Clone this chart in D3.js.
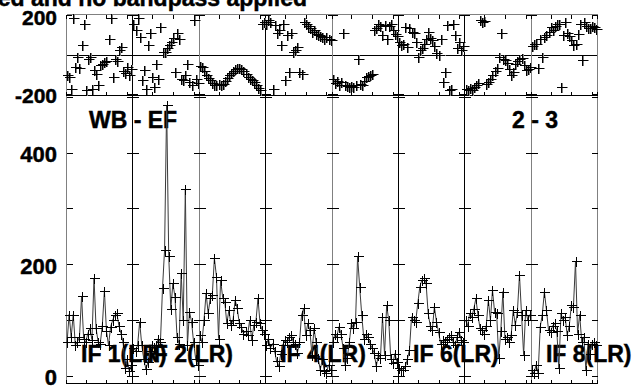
<!DOCTYPE html>
<html><head><meta charset="utf-8">
<script src="https://cdn.jsdelivr.net/npm/d3@7"></script>
<style>html,body{margin:0;padding:0;background:#fff;}svg{display:block;}text{font-family:"Liberation Sans",Arial,sans-serif;font-weight:bold;fill:#000;stroke:#000;stroke-width:0.45px;}</style>
</head><body><svg id="c" width="633" height="390"></svg>
<script>
// ---------------- data ----------------
const titleText = "Calibrated and no bandpass applied";
const baselineLeft = "WB - EF";
const baselineRight = "2 - 3";
const ifNames = ["IF 1(LR)","IF 2(LR)","IF 3(LR)","IF 4(LR)","IF 5(LR)","IF 6(LR)","IF 7(LR)","IF 8(LR)"];
const ifLabelShown = [true,true,false,true,false,true,false,true];
const ampTicks = [0,100,200,300,400,500];
const ampTickLabels = [0,200,400];
const phaseTickLabels = [200,-200];
const channelTicks = [10,20,30];
const nChan = 32;

const amp1 = [60,110,70,110,55,61,70,143,67,60,76,85,65,175,85,61,58,90,153,80,55,88,100,109,112,90,76,60,14,30,8,20];
const amp2 = [50,45,55,97,55,30,12,25,45,55,52,55,67,60,157,226,485,215,120,166,142,70,58,184,100,334,55,115,97,60,30,20];
const amp3 = [73,60,100,148,112,139,145,211,178,67,172,140,133,94,118,91,100,136,121,95,88,76,80,73,100,64,91,97,139,94,82,76];
const amp4 = [55,67,50,58,45,26,17,40,56,64,60,70,73,61,58,41,60,109,121,73,94,82,38,85,60,32,11,30,8,5,20,10];
const amp5 = [60,75,70,88,76,50,20,32,60,94,85,97,214,160,109,67,75,70,58,50,41,17,38,32,106,38,127,100,30,23,40,25];
const amp6 = [15,10,11,17,30,47,106,100,97,130,160,172,175,166,112,90,82,124,97,79,58,64,60,67,70,73,61,56,70,79,64,60];
const amp7 = [100,90,112,106,120,139,109,85,82,76,90,136,100,154,115,112,32,80,151,67,70,60,73,118,91,115,181,110,38,118,100,110];
const amp8 = [10,5,20,5,88,110,151,118,82,79,90,94,80,14,112,100,106,73,90,127,124,205,76,110,61,70,11,58,40,58,61,55];

const phase1 = [-102,-111,-168,178,-61,-12,-69,46,153,-177,-20,-10,-168,-78,-94,-152,-50,-45,-36,-30,79,178,-111,-20,-30,21,38,-80,-90,-60,-100,-70];
const phase2 = [150,120,178,87,-127,-78,-168,46,104,-111,-160,-45,-119,137,10,13,30,46,63,80,-86,104,79,-119,-127,-100,-45,-135,-150,170,-120,-140];
const phase3 = [-55,-61,-80,-100,-115,-127,-140,-150,-152,-148,-150,-144,-130,-115,-102,-90,-80,-72,-69,-68,-72,-80,-95,-111,-120,-127,-135,-150,-165,-177,153,160];
const phase4 = [150,170,162,-168,145,104,120,46,153,-127,96,-86,104,13,20,38,-86,-94,162,150,140,130,110,120,100,96,90,87,79,85,75,70];
const phase5 = [-120,-140,-130,-150,-135,104,-152,-155,-160,-158,-160,-150,-20,-145,-152,-130,-111,-105,-102,-95,120,130,153,140,96,145,79,140,150,120,100,90];
const phase6 = [60,45,54,137,38,129,110,104,60,-12,21,30,50,79,112,80,71,40,5,-3,79,-135,-86,145,-177,-170,153,96,30,60,20,40];
const phase7 = [-170,-175,-165,-177,-160,-150,-140,170,162,165,-145,-135,-120,-102,-80,-69,-12,104,-20,-28,-40,-70,-102,-86,-45,-30,-20,-15,-50,-78,-70,-60];
const phase8 = [40,50,54,-69,79,-12,85,96,110,137,120,140,153,150,-160,96,162,104,90,70,46,50,100,153,-28,162,140,130,129,140,135,125];

const ampSeries = [amp1,amp2,amp3,amp4,amp5,amp6,amp7,amp8];
const phaseSeries = [phase1,phase2,phase3,phase4,phase5,phase6,phase7,phase8];

// ---------------- drawing ----------------
const svg = d3.select("#c");
const nIF = ifNames.length;
const xPanel = d3.scaleLinear().domain([0, nIF]).range([66, 597.3]);
const yPh = d3.scaleLinear().domain([-200, 200]).range([95, 14]);
const yAmp = d3.scaleLinear().domain([-12.6, 503]).range([383, 95]);
const gray = "#808080";
const edgeColors = [gray,"#000",gray,"#000",gray,"#000","#000",gray,gray];
const px = v => Math.round(v) + 0.5;

function chanScale(i){
  return d3.scaleLinear().domain([0.5, nChan + 0.5]).range([xPanel(i), xPanel(i+1)]);
}

// title
svg.append("text").attr("x", 307).attr("y", 5.5).attr("text-anchor","end")
  .attr("font-size", 23).text(titleText);

// y labels
svg.selectAll("text.ph").data(phaseTickLabels).join("text").attr("class","ph")
  .attr("x", 57).attr("text-anchor","end").attr("font-size", 21)
  .attr("y", d => d > 0 ? 25 : 103).text(d => d);
svg.selectAll("text.am").data(ampTickLabels).join("text").attr("class","am")
  .attr("x", 57).attr("text-anchor","end").attr("font-size", 22)
  .attr("y", d => yAmp(d) + 9.5).text(d => d);

// horizontal frame lines
const frame = svg.append("g").attr("stroke-width",1).attr("fill","none").attr("shape-rendering","crispEdges");
const xL = px(xPanel(0)), xR = px(xPanel(nIF));
[[yPh(200),gray],[yPh(0),"#000"],[yPh(-200),"#000"],[yAmp.range()[0],"#000"]].forEach(([y,c]) => {
  frame.append("line").attr("x1",xL).attr("x2",xR).attr("y1",px(y)).attr("y2",px(y)).attr("stroke",c);
});

// vertical dividers
d3.range(nIF+1).forEach(i => {
  frame.append("line").attr("x1",px(xPanel(i))).attr("x2",px(xPanel(i)))
    .attr("y1",px(yPh(200))).attr("y2",px(yAmp.range()[0]))
    .attr("stroke",edgeColors[i]);
});

// ticks
const tk = svg.append("g").attr("stroke","#000").attr("stroke-width",1).attr("shape-rendering","crispEdges");
for (let i=0;i<nIF;i++){
  const cs = chanScale(i);
  const xs = [xPanel(i), ...channelTicks.map(c => cs(c)), xPanel(i+1)];
  xs.forEach(x => {
    const X = px(x);
    tk.append("line").attr("x1",X).attr("x2",X).attr("y1",px(yPh(200))).attr("y2",px(yPh(200))+4);
    tk.append("line").attr("x1",X).attr("x2",X).attr("y1",px(yPh(-200))).attr("y2",px(yPh(-200))-4);
    tk.append("line").attr("x1",X).attr("x2",X).attr("y1",px(yAmp.range()[0])).attr("y2",px(yAmp.range()[0])-4);
  });
  ampTicks.forEach(v => {
    const y = px(yAmp(v));
    tk.append("line").attr("x1",px(xPanel(i))).attr("x2",px(xPanel(i))+6).attr("y1",y).attr("y2",y);
    tk.append("line").attr("x1",px(xPanel(i+1))-6).attr("x2",px(xPanel(i+1))).attr("y1",y).attr("y2",y);
  });
  [200,-200].forEach(v => {
    const y = px(yPh(v)) + (v>0?1:-1);
    tk.append("line").attr("x1",px(xPanel(i))).attr("x2",px(xPanel(i))+5).attr("y1",y).attr("y2",y);
    tk.append("line").attr("x1",px(xPanel(i+1))-5).attr("x2",px(xPanel(i+1))).attr("y1",y).attr("y2",y);
  });
}

// baseline labels
svg.append("text").attr("x", 89).attr("y", 128).attr("font-size", 23).text(baselineLeft);
svg.append("text").attr("x", 512).attr("y", 128).attr("font-size", 23).text(baselineRight);

// IF labels
ifNames.forEach((name,i) => {
  if (!ifLabelShown[i]) return;
  svg.append("text").attr("x", xPanel(i) + 15).attr("y", 362).attr("font-size", 23).text(name);
});

// crosses
function cross(g, x, y, color, dx){
  const X = Math.round(x + dx) + 0.5, Y = Math.round(y) + 0.5;
  const hw = 5, hh = 5;
  g.append("path").attr("d", `M${X-hw},${Y}H${X+hw}M${X},${Y-hh}V${Y+hh}`)
    .attr("stroke", color).attr("stroke-width", 1).attr("fill","none")
    .attr("shape-rendering","crispEdges");
}

for (let i=0;i<nIF;i++){
  const cs = chanScale(i);
  const g = svg.append("g");
  const amp = ampSeries[i], ph = phaseSeries[i];
  const line = d3.line().x((d,k) => cs(k+1)).y(d => yAmp(d));
  g.append("path").attr("d", line(amp)).attr("fill","none").attr("stroke","#3a3a3a").attr("stroke-width",1);
  amp.forEach((v,k) => cross(g, cs(k+1), yAmp(v), "#000", 0));
  ph.forEach((v,k) => cross(g, cs(k+1), yPh(v), gray, 1));
  ph.forEach((v,k) => cross(g, cs(k+1), yPh(v), "#000", 0));
}
</script></body></html>
